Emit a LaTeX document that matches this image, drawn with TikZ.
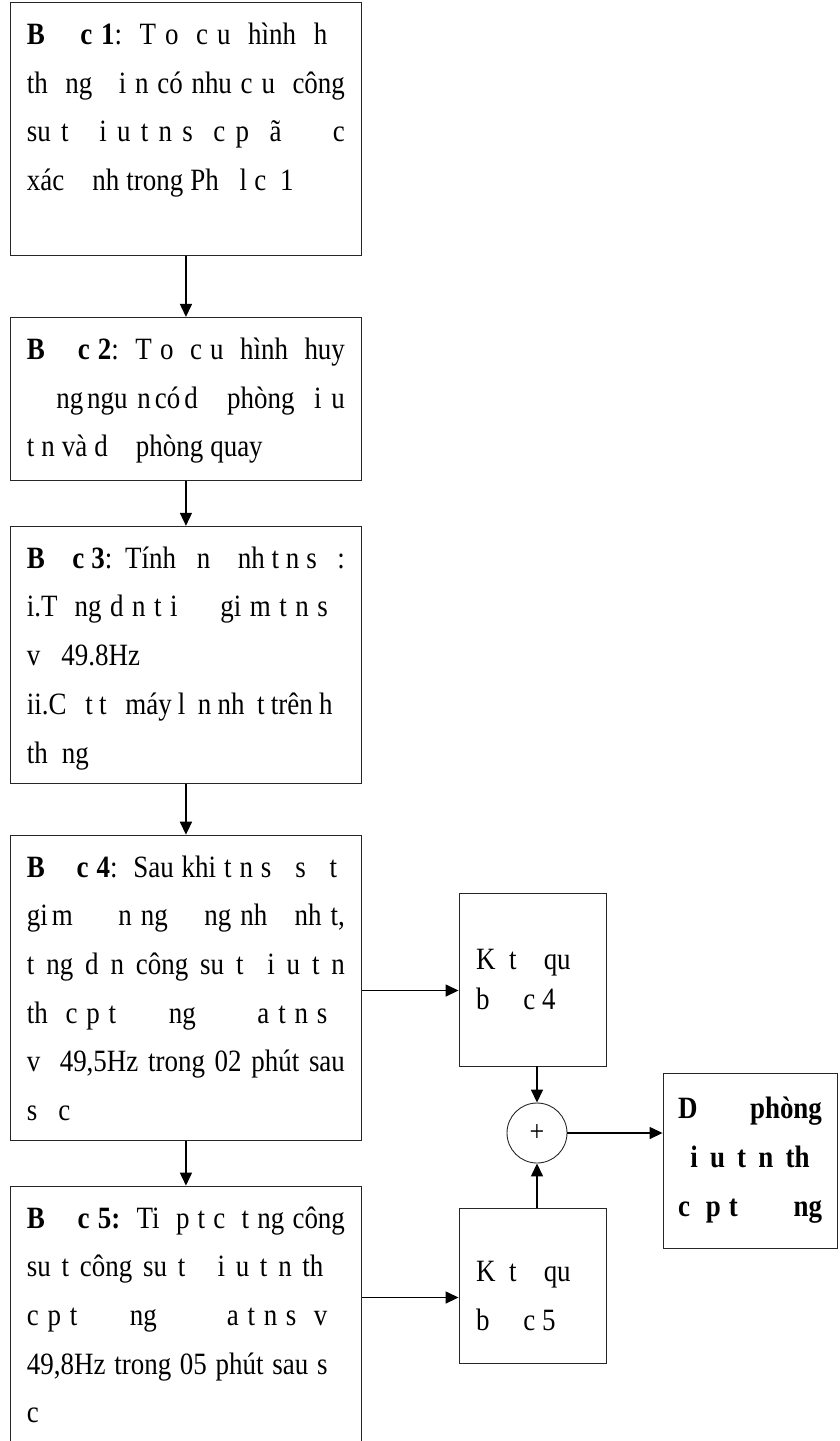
\documentclass[tikz,border=0pt]{standalone}
\usepackage{fontspec}
\setmainfont{Liberation Serif}[FakeStretch=0.87]
\usetikzlibrary{arrows.meta,calc,positioning}

% one justified line inside a box
\newcommand{\jl}[1]{\leavevmode\hbox to\hsize{\spaceskip=3pt plus 1fil\relax#1}}
% text of a step box, with its full height
\newcommand{\steptext}[2]{\parbox[t][#1][t]{318pt}{\spaceskip=7pt plus 2pt\relax\rule{0pt}{42pt}#2}}

\begin{document}
\begin{tikzpicture}[
    x=1pt, y=-1pt,
    >={Triangle[length=13pt,width=12pt]},
    stepbox/.style={draw=black!85, line width=0.9pt, anchor=north west,
        inner xsep=16.5pt, inner ysep=0pt,
        font=\fontsize{31}{48.7}\selectfont},
    resbox/.style={draw=black!85, line width=0.9pt, minimum width=147pt,
        text width=113pt, inner xsep=17pt, align=left,
        execute at begin node={\spaceskip=6.8pt\relax}},
    arr/.style={->, line width=1.5pt},
]
\useasboundingbox (0,0) rectangle (840,1441);
\clip (0,0) rectangle (840,1441);

% steps down the left
\node[stepbox] (s1) at (10,2) {\steptext{253pt}{%
\jl{\textbf{B\ \ \ \ c 1}:\ \ T o\ \ c u\ \ hình\ \ h\ \ }\\
\jl{th\ \ ng\ \ \ i\ n có nhu c u\ \ công}\\
\jl{su t\ \ \ i u t n s\ \ c p\ \ ã\ \ \ \ \ c}\\
xác\ \ \ \ nh trong Ph\ \ \ l c\ \ 1}};

\node[stepbox, below=61pt of s1] (s2) {\steptext{163pt}{%
\jl{\textbf{B\ \ \ \ c 2}:\ \ T o\ \ c u\ \ hình\ \ huy}\\
\jl{\mbox{}\ \ \ ng\hspace{4pt}ngu\ n\hspace{4pt}có\hspace{4pt}d\ \ \ phòng\ \ i u}\\
t\ n và d\ \ \ \ phòng quay}};

\node[stepbox, below=45pt of s2] (s3) {\steptext{257pt}{%
\jl{\textbf{B\ \ \ \ c 3}: Tính\ \ \ n\ \ \ \ nh t n s\ \ \ :}\\
\jl{i.T\ \ ng d n t i\ \ \ \ \ gi\ m t n s\ \ }\\
v\ \ \ 49.8Hz\\
\jl{ii.C\ \ \ t t\ \ \ máy l\ \ n nh\ \ t trên h\ \ }\\
th\ \ ng}};

\node[stepbox, below=51pt of s3] (s4) {\steptext{305pt}{%
\jl{\textbf{B\ \ \ \ c 4}:\ \ Sau khi t n s\ \ \ s\ \ \ t\ }\\
\jl{gi\hspace{4pt}m\ \ \ \ \ n ng\ \ \ \ ng nh\ \ \ nh t,}\\
\jl{t ng d n công su t\ \ i u t n}\\
\jl{th\ \ c p t\ \ \ \ \ \ ng\ \ \ \ \ \ \ a t n s\ \ }\\
\jl{v\ \ 49,5Hz trong 02 phút sau}\\
s\ \ \ c}};

\node[stepbox, below=45pt of s4] (s5) {\steptext{280pt}{%
\jl{\textbf{B\ \ \ \ c 5:}\ \ Ti\ \ p t c\ \ t ng công}\\
\jl{su t công su t\ \ \ i u t n th\ \ }\\
\jl{c p t\ \ \ \ \ \ ng\ \ \ \ \ \ \ \ a t n s\ \ v\ \ }\\
\jl{49,8Hz trong 05 phút sau s\ \ }\\
c}};

% results and sum
\node[resbox, minimum height=173pt, font=\fontsize{31}{40}\selectfont]
    (r4) at (532.5,979.5) {K\ \ t\ \ \ \ qu\\b\ \ \ \ \ c 4};
\node[resbox, minimum height=155pt, font=\fontsize{31}{49}\selectfont]
    (r5) at (532.5,1285.5) {\rule{0pt}{42pt}K\ \ t\ \ \ \ qu\\b\ \ \ \ \ c 5};
\node[draw=black!85, line width=0.9pt, circle, minimum size=60pt, inner sep=0pt,
    font=\fontsize{30}{30}\selectfont] (sum) at (537,1133) {+};
\node[draw=black!85, line width=0.9pt, minimum width=174pt, minimum height=175pt,
    text width=144pt, inner xsep=15pt,
    font=\bfseries\fontsize{31}{49}\selectfont] (fin) at (750,1160.5) {%
\jl{D\ phòng}\\
\jl{\mbox{}\ i\ u t\ n th\ }\\
\jl{c\ \ p t\ \ \ \ \ \ \ ng}};

% connectors
\draw[arr] (s1) -- (s2);
\draw[arr] (s2) -- (s3);
\draw[arr] (s3) -- (s4);
\draw[arr] (s4) -- (s5);
\coordinate (in4) at ($(r4.west)+(0,11)$);
\coordinate (in5) at ($(r5.west)+(0,12)$);
\draw[arr] (s4.east |- in4) -- (in4);
\draw[arr] (s5.east |- in5) -- (in5);
\draw[arr] (r4.south -| sum) -- (sum);
\draw[arr] (r5.north -| sum) -- (sum);
\draw[arr] (sum) -- (sum -| fin.west);
\end{tikzpicture}
\end{document}
